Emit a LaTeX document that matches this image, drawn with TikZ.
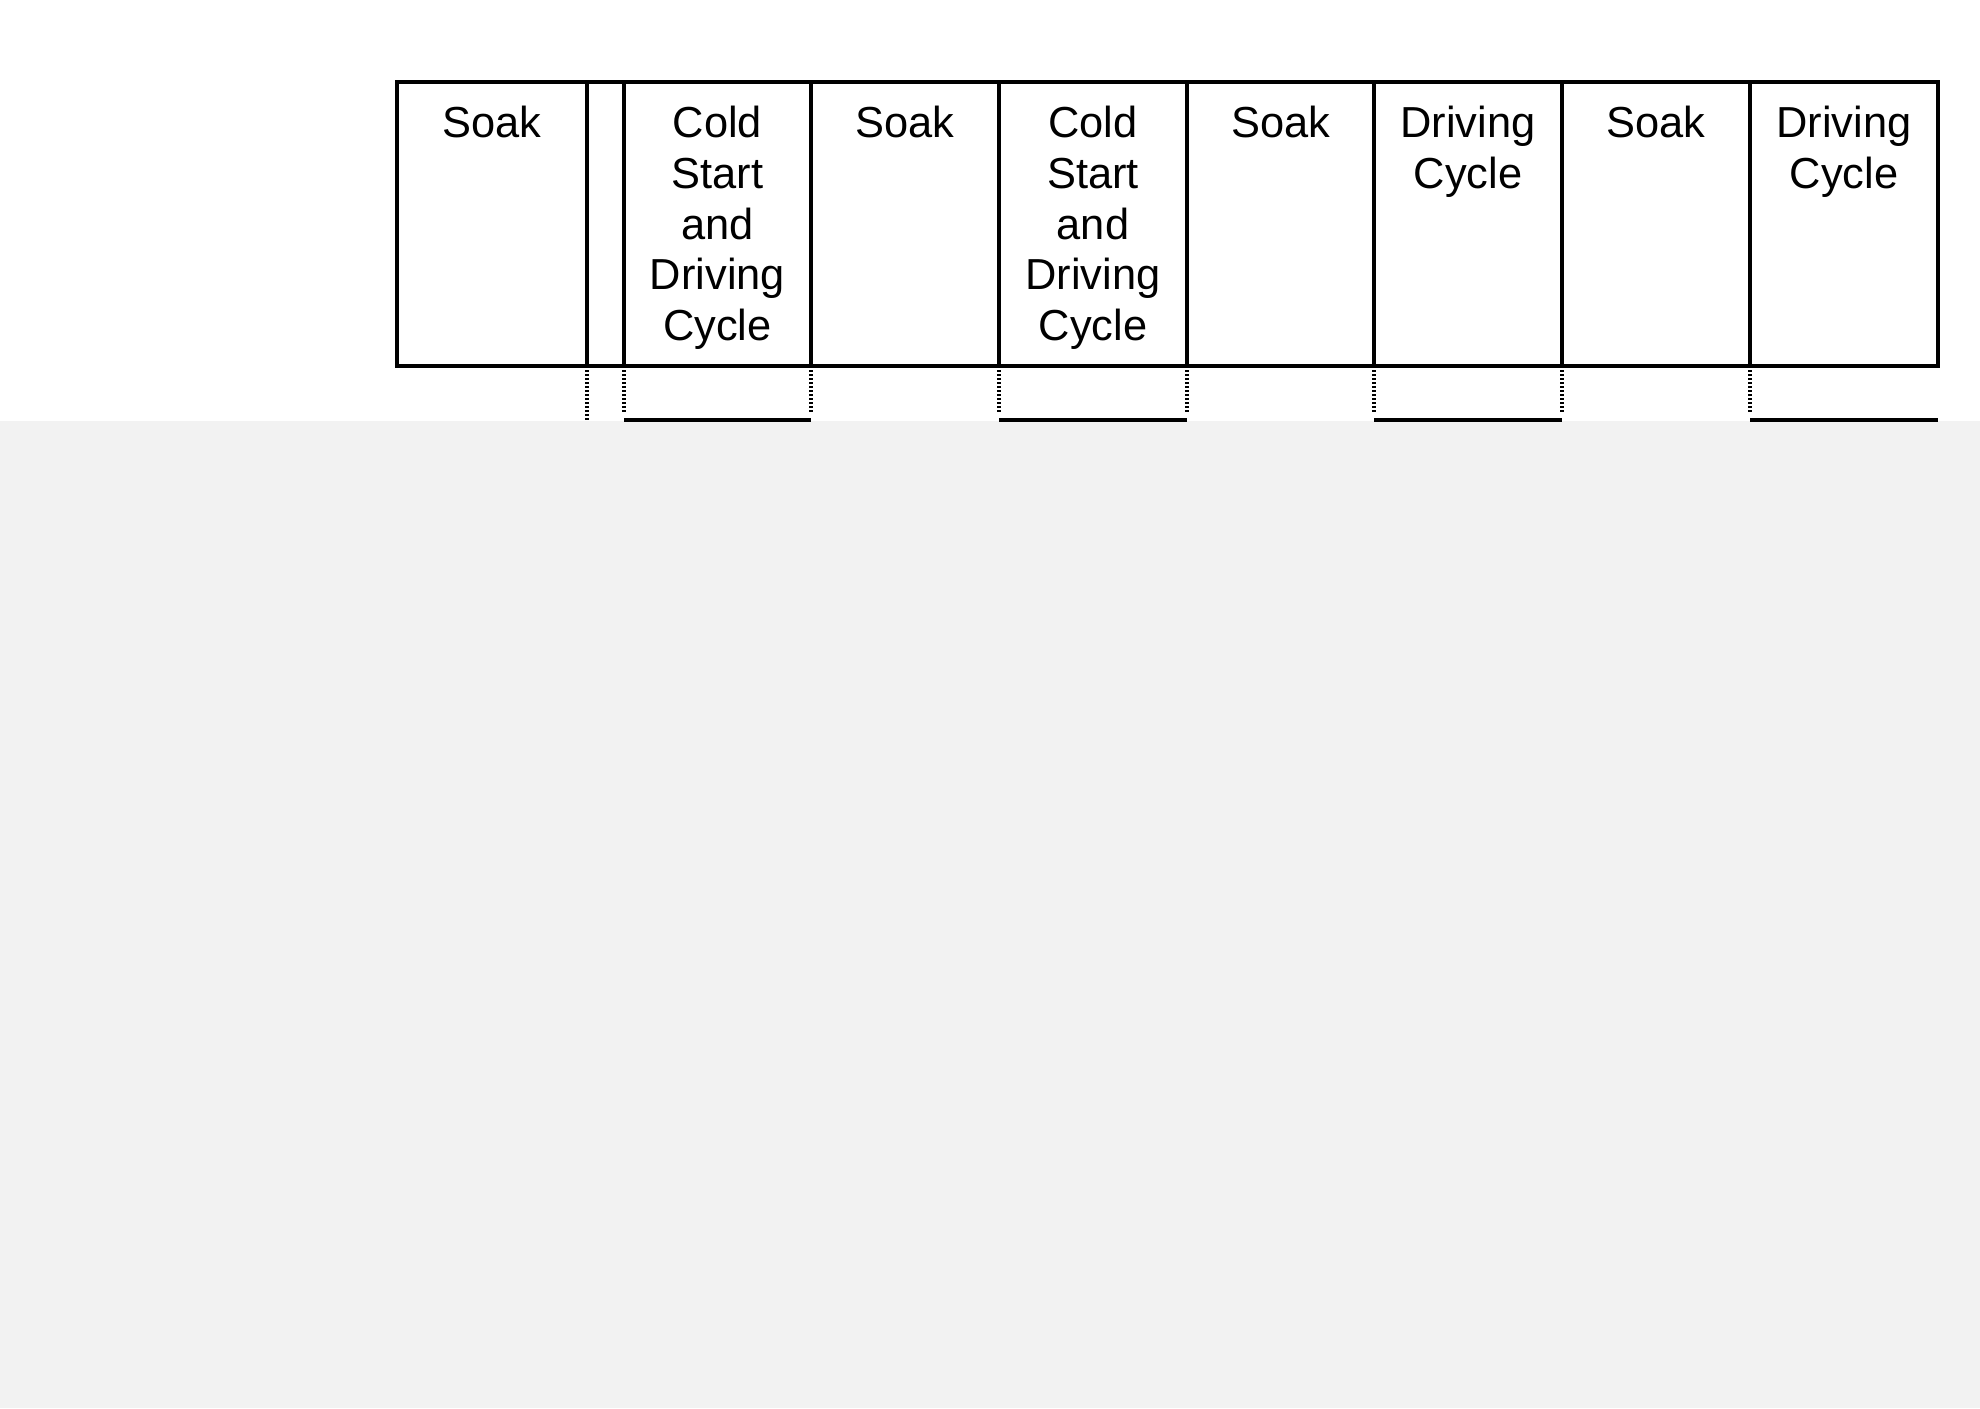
\documentclass[tikz,border=0pt]{standalone}
\usepackage{fontspec}
\setmainfont{Liberation Sans}
\definecolor{bggray}{HTML}{F2F2F2}
\begin{document}
\begin{tikzpicture}[x=0.5pt,y=-0.5pt,
  cell/.style={draw, line width=2.3pt, minimum height=142pt, inner sep=0pt, outer sep=0pt, anchor=north west},
  lbl/.style={font=\fontsize{21.7}{25.3}\selectfont, align=center, anchor=north, inner sep=0pt},
  dots/.style={line width=2pt, dash pattern=on 1pt off 1pt},
  low/.style={line width=2.2pt}]
\useasboundingbox (0,0) rectangle (1980,1408);
\fill[bggray] (0,421) rectangle (1980,1408);
% cells
\node[cell, minimum width=95pt]   (c1) at (397,82)  {};
\node[cell, minimum width=18.5pt] (c2) at (587,82)  {};
\node[cell, minimum width=93.5pt] (c3) at (624,82)  {};
\node[cell, minimum width=94pt]   (c4) at (811,82)  {};
\node[cell, minimum width=94pt]   (c5) at (999,82)  {};
\node[cell, minimum width=93.5pt] (c6) at (1187,82) {};
\node[cell, minimum width=94pt]   (c7) at (1374,82) {};
\node[cell, minimum width=94pt]   (c8) at (1562,82) {};
\node[cell, minimum width=94pt]   (c9) at (1750,82) {};
% labels
\node[lbl] (t1) at ([yshift=-12pt]c1.north) {Soak};
\node[lbl] (t3) at ([yshift=-12pt]c3.north) {Cold\\Start\\and\\Driving\\Cycle};
\node[lbl] (t4) at ([yshift=-12pt]c4.north) {Soak};
\node[lbl] (t5) at ([yshift=-12pt]c5.north) {Cold\\Start\\and\\Driving\\Cycle};
\node[lbl] (t6) at ([yshift=-12pt]c6.north) {Soak};
\node[lbl] (t7) at ([yshift=-12pt]c7.north) {Driving\\Cycle};
\node[lbl] (t8) at ([yshift=-12pt]c8.north) {Soak};
\node[lbl] (t9) at ([yshift=-12pt]c9.north) {Driving\\Cycle};
% timing marks below
\draw[dots] (c2.south west) -- ++(0,55);
\foreach \c in {c3,c5,c7}{
  \draw[dots] (\c.south west) -- ++(0,48);
  \draw[dots] (\c.south east) -- ++(0,48);
  \draw[low] ([yshift=-27pt]\c.south west) -- ([yshift=-27pt]\c.south east);
}
\draw[dots] (c9.south west) -- ++(0,48);
\draw[low] ([yshift=-27pt]c9.south west) -- ([yshift=-27pt]c9.south east);
\end{tikzpicture}
\end{document}
